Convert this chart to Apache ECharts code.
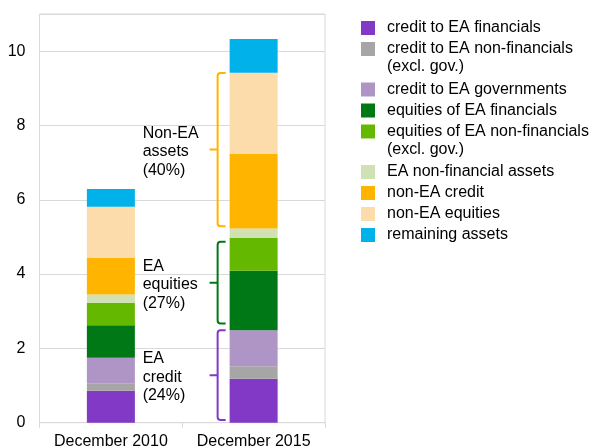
<!DOCTYPE html>
<html>
<head>
<meta charset="utf-8">
<script src="https://cdn.jsdelivr.net/npm/echarts@6/dist/echarts.min.js"></script>
<style>
html, body { margin: 0; padding: 0; background: #fff; }
#chart { width: 592px; height: 448px; }
</style>
</head>
<body>
<div id="chart"></div>
<script>
// Total assets by type, two snapshots, stacked.
var categories = ['December 2010', 'December 2015'];

var creditFin = [0.86, 1.18];
var creditNonFin = [0.20, 0.34];
var creditGov = [0.69, 0.97];
var equityFin = [0.87, 1.60];
var equityNonFin = [0.61, 0.88];
var nonFinAssets = [0.22, 0.26];
var nonEaCredit = [0.98, 2.00];
var nonEaEquity = [1.38, 2.19];
var remaining = [0.48, 0.91];

var seriesNames = [
    'credit to EA financials',
    'credit to EA non-financials',
    'credit to EA governments',
    'equities of EA financials',
    'equities of EA non-financials',
    'EA non-financial assets',
    'non-EA credit',
    'non-EA equities',
    'remaining assets'
];
var seriesValues = [creditFin, creditNonFin, creditGov, equityFin, equityNonFin,
    nonFinAssets, nonEaCredit, nonEaEquity, remaining];
var seriesColors = ['#8139c6', '#a6a6a6', '#ae95c6', '#007816', '#65b800',
    '#d0e2b3', '#ffb400', '#fbdcaa', '#00b1ea'];

// brackets on the 2015 bar (value ranges) and their labels
var braceLabels = ['EA\ncredit\n(24%)', 'EA\nequities\n(27%)', 'Non-EA\nassets\n(40%)'];
var braceFrom = [0.07, 2.67, 5.29];
var braceTo = [2.49, 4.87, 9.41];
var braceColors = ['#8139c6', '#007816', '#ffb400'];

var FONT = "'Liberation Sans', Arial, sans-serif";
var BAR_W = 48;

var chart = echarts.init(document.getElementById('chart'), null, { renderer: 'canvas' });

var series = [];
for (var i = 0; i < seriesNames.length; i++) {
    series.push({
        name: seriesNames[i],
        type: 'bar',
        stack: 'total',
        barWidth: BAR_W,
        itemStyle: { color: seriesColors[i] },
        data: seriesValues[i]
    });
}

var braceData = [];
for (var j = 0; j < braceFrom.length; j++) {
    braceData.push({ value: [1, braceFrom[j], braceTo[j]], itemStyle: { color: braceColors[j] } });
}

series.push({
    type: 'custom',
    name: 'braces',
    clip: false,
    z: 5,
    data: braceData,
    renderItem: function (params, api) {
        var top = api.coord([api.value(0), api.value(2)]);
        var bot = api.coord([api.value(0), api.value(1)]);
        var x = top[0] - BAR_W / 2 - 12;
        var y1 = top[1], y2 = bot[1], ym = (y1 + y2) / 2;
        var col = braceColors[params.dataIndex];
        var d = 'M' + (x + 8) + ',' + y1 + ' L' + (x + 3) + ',' + y1 +
            ' Q' + x + ',' + y1 + ' ' + x + ',' + (y1 + 3) +
            ' L' + x + ',' + (y2 - 3) +
            ' Q' + x + ',' + y2 + ' ' + (x + 3) + ',' + y2 +
            ' L' + (x + 8) + ',' + y2 +
            ' M' + x + ',' + ym + ' L' + (x - 8) + ',' + ym;
        return {
            type: 'group',
            children: [{
                type: 'path',
                shape: { pathData: d },
                style: { stroke: col, lineWidth: 2, fill: null }
            }, {
                type: 'text',
                x: x - 75,
                y: ym + 2,
                style: {
                    text: braceLabels[params.dataIndex],
                    fill: '#000',
                    font: '16px ' + FONT,
                    lineHeight: 18.5,
                    verticalAlign: 'middle',
                    align: 'left'
                }
            }]
        };
    }
});

function legendBox(names, top) {
    return {
        data: names,
        orient: 'vertical',
        left: 361,
        top: top,
        padding: 0,
        itemWidth: 14,
        itemHeight: 14,
        itemGap: 3,
        icon: 'rect',
        selectedMode: false,
        textStyle: { fontFamily: FONT, fontSize: 16, lineHeight: 18, color: '#000', padding: [0, 0, 0, 7] }
    };
}

var option = {
    animation: false,
    textStyle: { fontFamily: FONT },
    grid: {
        left: 39.5, right: 267, top: 14, bottom: 25.3,
        outerBoundsMode: 'none',
        containLabel: false,
        show: true, borderColor: '#d9d9d9', borderWidth: 1
    },
    legend: [
        legendBox(seriesNames.slice(0, 2), 19),
        legendBox(seriesNames.slice(2, 5), 80.5),
        legendBox(seriesNames.slice(5), 163)
    ],
    graphic: [
        { type: 'text', left: 387, top: 59, style: { text: '(excl. gov.)', font: '16px ' + FONT, fill: '#000' } },
        { type: 'text', left: 387, top: 142, style: { text: '(excl. gov.)', font: '16px ' + FONT, fill: '#000' } }
    ],
    xAxis: {
        type: 'category',
        data: categories,
        axisLine: { lineStyle: { color: '#d9d9d9', width: 1 } },
        axisTick: { show: true, length: 5, lineStyle: { color: '#d9d9d9' } },
        axisLabel: { color: '#000', fontSize: 16, margin: 11, fontFamily: FONT, interval: 0, hideOverlap: false }
    },
    yAxis: {
        type: 'value',
        min: 0,
        max: 11,
        interval: 2,
        axisLine: { show: false },
        axisTick: { show: false },
        splitLine: { lineStyle: { color: '#d9d9d9', width: 1 } },
        axisLabel: { color: '#000', fontSize: 16, margin: 14, fontFamily: FONT, showMaxLabel: false }
    },
    series: series
};

chart.setOption(option);
</script>
</body>
</html>
